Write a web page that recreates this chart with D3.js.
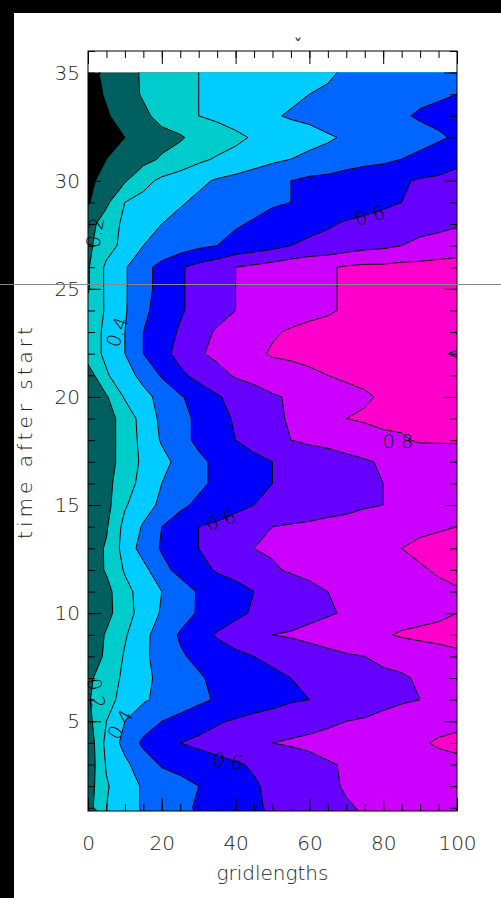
<!DOCTYPE html>
<html>
<head>
<meta charset="utf-8">
<script src="https://cdn.jsdelivr.net/npm/d3@7"></script>
<style>
body{margin:0;background:#fff}
</style>
</head>
<body>
<div id="graph"></div>
<script>
"use strict"
// sampled field: one row per time step (t=1 first), one column per gridlength
var gridlengths=[0,5,10,15,20,25,30,35,40,45,50,55,60,65,70,75,80,85,90,95,100]
var times=[1,2,3,4,5,6,7,8,9,10,11,12,13,14,15,16,17,18,19,20,21,22,23,24,25,26,27,28,29,30,31,32,33,34,35]
var field=[
  [0.16,0.30,0.36,0.41,0.44,0.48,0.51,0.53,0.56,0.59,0.61,0.63,0.65,0.67,0.69,0.71,0.72,0.73,0.74,0.75,0.76],
  [0.15,0.29,0.36,0.41,0.44,0.47,0.50,0.53,0.56,0.59,0.62,0.64,0.66,0.68,0.71,0.72,0.73,0.74,0.75,0.75,0.76],
  [0.13,0.31,0.38,0.45,0.51,0.53,0.55,0.57,0.59,0.61,0.63,0.65,0.67,0.69,0.71,0.72,0.74,0.75,0.76,0.77,0.78],
  [0.13,0.33,0.43,0.52,0.57,0.60,0.62,0.64,0.66,0.68,0.70,0.71,0.72,0.74,0.75,0.76,0.77,0.78,0.79,0.81,0.82],
  [0.17,0.30,0.40,0.45,0.50,0.53,0.56,0.59,0.61,0.63,0.64,0.66,0.67,0.68,0.70,0.71,0.73,0.74,0.76,0.77,0.78],
  [0.19,0.27,0.33,0.39,0.42,0.45,0.48,0.51,0.53,0.55,0.57,0.59,0.60,0.62,0.64,0.65,0.67,0.69,0.70,0.71,0.72],
  [0.18,0.25,0.32,0.38,0.42,0.46,0.49,0.52,0.54,0.56,0.58,0.60,0.62,0.63,0.65,0.66,0.68,0.69,0.71,0.72,0.73],
  [0.13,0.22,0.31,0.38,0.44,0.49,0.52,0.55,0.58,0.60,0.62,0.64,0.65,0.67,0.69,0.70,0.72,0.73,0.75,0.76,0.77],
  [0.13,0.21,0.29,0.37,0.45,0.51,0.56,0.61,0.64,0.67,0.70,0.71,0.73,0.75,0.76,0.78,0.79,0.81,0.82,0.83,0.85],
  [0.13,0.17,0.26,0.34,0.41,0.46,0.51,0.54,0.58,0.61,0.63,0.65,0.67,0.69,0.71,0.73,0.74,0.76,0.77,0.78,0.80],
  [0.13,0.17,0.27,0.34,0.40,0.45,0.51,0.54,0.57,0.60,0.63,0.65,0.68,0.70,0.71,0.73,0.74,0.75,0.77,0.78,0.79],
  [0.14,0.21,0.31,0.37,0.47,0.53,0.57,0.61,0.63,0.66,0.69,0.71,0.72,0.73,0.74,0.76,0.77,0.78,0.79,0.81,0.83],
  [0.15,0.21,0.34,0.44,0.51,0.56,0.60,0.64,0.67,0.70,0.71,0.72,0.74,0.75,0.76,0.77,0.79,0.80,0.82,0.83,0.85],
  [0.14,0.19,0.33,0.41,0.50,0.55,0.60,0.62,0.65,0.67,0.70,0.71,0.72,0.73,0.74,0.75,0.76,0.77,0.78,0.79,0.80],
  [0.13,0.17,0.29,0.36,0.42,0.48,0.52,0.54,0.57,0.60,0.61,0.63,0.64,0.66,0.67,0.69,0.70,0.72,0.74,0.76,0.78],
  [0.13,0.17,0.26,0.33,0.40,0.44,0.48,0.52,0.55,0.58,0.60,0.62,0.64,0.65,0.67,0.69,0.70,0.72,0.73,0.74,0.75],
  [0.13,0.16,0.24,0.32,0.37,0.43,0.48,0.52,0.54,0.57,0.60,0.62,0.63,0.65,0.67,0.69,0.71,0.72,0.73,0.74,0.75],
  [0.13,0.16,0.24,0.33,0.41,0.47,0.52,0.56,0.60,0.64,0.67,0.70,0.72,0.73,0.75,0.76,0.78,0.79,0.81,0.81,0.81],
  [0.13,0.16,0.24,0.34,0.42,0.47,0.52,0.57,0.61,0.64,0.68,0.71,0.74,0.77,0.80,0.81,0.82,0.82,0.83,0.83,0.84],
  [0.14,0.19,0.31,0.37,0.43,0.49,0.54,0.59,0.63,0.66,0.69,0.71,0.73,0.75,0.78,0.79,0.81,0.82,0.83,0.83,0.84],
  [0.15,0.29,0.36,0.43,0.51,0.58,0.63,0.67,0.71,0.73,0.75,0.76,0.78,0.80,0.81,0.82,0.83,0.83,0.84,0.84,0.85],
  [0.25,0.32,0.40,0.50,0.57,0.63,0.69,0.72,0.75,0.78,0.81,0.82,0.83,0.83,0.84,0.84,0.84,0.84,0.83,0.81,0.79],
  [0.25,0.32,0.40,0.50,0.56,0.61,0.67,0.71,0.74,0.76,0.79,0.81,0.82,0.83,0.83,0.84,0.84,0.84,0.85,0.85,0.85],
  [0.24,0.31,0.39,0.48,0.54,0.59,0.63,0.67,0.70,0.72,0.74,0.76,0.78,0.79,0.81,0.82,0.83,0.83,0.84,0.84,0.85],
  [0.19,0.32,0.39,0.47,0.53,0.59,0.63,0.67,0.70,0.72,0.74,0.76,0.78,0.79,0.81,0.82,0.82,0.83,0.83,0.84,0.84],
  [0.19,0.32,0.39,0.47,0.53,0.59,0.63,0.66,0.70,0.72,0.74,0.76,0.78,0.79,0.81,0.82,0.82,0.83,0.83,0.84,0.84],
  [0.18,0.26,0.33,0.40,0.43,0.45,0.48,0.50,0.53,0.55,0.57,0.60,0.62,0.63,0.65,0.67,0.68,0.70,0.72,0.73,0.75],
  [0.16,0.25,0.32,0.36,0.40,0.43,0.45,0.47,0.49,0.51,0.53,0.55,0.57,0.59,0.61,0.62,0.64,0.65,0.67,0.68,0.69],
  [0.09,0.18,0.30,0.33,0.36,0.39,0.42,0.43,0.45,0.47,0.49,0.50,0.52,0.54,0.55,0.57,0.58,0.60,0.62,0.64,0.66],
  [0.08,0.13,0.19,0.27,0.32,0.35,0.38,0.41,0.43,0.46,0.48,0.50,0.52,0.53,0.55,0.56,0.57,0.59,0.61,0.62,0.64],
  [0.06,0.10,0.13,0.17,0.21,0.24,0.28,0.31,0.33,0.35,0.38,0.40,0.42,0.43,0.45,0.47,0.48,0.50,0.52,0.54,0.57],
  [0.04,0.07,0.10,0.13,0.17,0.19,0.23,0.25,0.28,0.31,0.33,0.35,0.37,0.39,0.41,0.42,0.44,0.46,0.47,0.49,0.51],
  [0.04,0.09,0.14,0.18,0.23,0.26,0.30,0.32,0.34,0.37,0.39,0.41,0.42,0.44,0.45,0.47,0.48,0.49,0.51,0.52,0.54],
  [0.06,0.11,0.16,0.21,0.24,0.28,0.30,0.32,0.34,0.35,0.37,0.38,0.40,0.41,0.43,0.44,0.45,0.46,0.48,0.49,0.50],
  [0.07,0.12,0.17,0.21,0.24,0.27,0.30,0.32,0.33,0.34,0.36,0.37,0.38,0.39,0.41,0.42,0.43,0.44,0.46,0.47,0.48]
]
var levels=[0.1,0.2,0.3,0.4,0.5,0.6,0.7,0.8]
var levelColors=['#005f5f','#00cccc','#00ccff','#0066ff','#0000ff','#6600ff','#cc00ff','#ff00cc']
var xTicks=[0,20,40,60,80,100]
var yTicks=[5,10,15,20,25,30,35]
// contour labels: text, gridlength, time, angle
var labelText=['0.2','0.4','0.6','0.8','0.6','0.2','0.4','0.6']
var labelX=[1.9,7.9,76.4,84,36,2.2,8.7,37.9]
var labelT=[27.6,23.0,28.4,17.95,14.3,6.3,4.85,3.15]
var labelAngle=[-80,-70,-15,0,-20,80,-60,8]

var W=501,H=898
var svg=d3.select('#graph').append('svg').attr('width',W).attr('height',H)
svg.append('rect').attr('width',W).attr('height',H).attr('fill','#fff')

var x=d3.scaleLinear().domain([0,100]).range([88,457])
var y=d3.scaleLinear().domain([0.85,36]).range([811,51])

// contour polygons live in grid-index space, values sit at cell centres
var nx=gridlengths.length,ny=times.length
var gx=d3.scaleLinear().domain([0.5,nx-0.5]).range([x(gridlengths[0]),x(gridlengths[nx-1])])
var gy=d3.scaleLinear().domain([0.5,ny-0.5]).range([y(times[0]),y(times[ny-1])])
var values=[]
for(var j=0;j<ny;j++)
  for(var i=0;i<nx;i++)
    values.push(field[j][i])
var contours=d3.contours().size([nx,ny]).thresholds(levels)(values)
var path=d3.geoPath(d3.geoTransform({point:function(px,py){this.stream.point(gx(px),gy(py))}}))

svg.append('clipPath').attr('id','plotclip').append('rect')
  .attr('x',x(0)).attr('y',y(35)).attr('width',x(100)-x(0)).attr('height',y(0.85)-y(35))
var plot=svg.append('g').attr('clip-path','url(#plotclip)')
plot.append('rect').attr('x',x(0)).attr('y',y(35)).attr('width',x(100)-x(0)).attr('height',y(0.85)-y(35)).attr('fill','#000')
plot.selectAll('path.band').data(contours).join('path').attr('class','band')
  .attr('d',path).attr('fill',function(d,i){return levelColors[i]})
plot.selectAll('path.iso').data(contours).join('path').attr('class','iso')
  .attr('d',path).attr('fill','none').attr('stroke','#000').attr('stroke-width',1)

// contour labels
for(var k=0;k<labelText.length;k++){
  svg.append('text').attr('font-family','DejaVu Sans').attr('font-weight',300).attr('font-size',19).attr('fill','#000')
    .attr('text-anchor','middle').attr('dy','0.35em')
    .attr('transform','translate('+x(labelX[k])+','+y(labelT[k])+') rotate('+labelAngle[k]+')')
    .text(labelText[k])
}

// axes: ticks point inward, majors longer
function styleAxis(g){
  g.select('.domain').remove()
  g.selectAll('line').attr('stroke','#000')
  g.selectAll('text').attr('fill','#222').attr('font-family','DejaVu Sans').attr('font-weight',300).attr('font-size',20)
}
var minorX=d3.range(0,101,5),minorY=d3.range(1,37,1)
svg.append('g').attr('transform','translate(0,'+y(0.85)+')')
  .call(d3.axisBottom(x).tickValues(minorX).tickSize(-7).tickFormat('')).call(styleAxis)
svg.append('g').attr('transform','translate(0,'+y(0.85)+')')
  .call(d3.axisBottom(x).tickValues(xTicks).tickSize(-13).tickPadding(25).tickFormat(d3.format('d'))).call(styleAxis)
svg.append('g').attr('transform','translate(0,'+y(36)+')')
  .call(d3.axisTop(x).tickValues(minorX).tickSize(-7).tickFormat('')).call(styleAxis)
svg.append('g').attr('transform','translate(0,'+y(36)+')')
  .call(d3.axisTop(x).tickValues(xTicks).tickSize(-13).tickFormat('')).call(styleAxis)
svg.append('g').attr('transform','translate('+x(0)+',0)')
  .call(d3.axisLeft(y).tickValues(minorY).tickSize(-7).tickFormat('')).call(styleAxis)
svg.append('g').attr('transform','translate('+x(0)+',0)')
  .call(d3.axisLeft(y).tickValues(yTicks).tickSize(-13).tickPadding(8).tickFormat(d3.format('d'))).call(styleAxis)
svg.append('g').attr('transform','translate('+x(100)+',0)')
  .call(d3.axisRight(y).tickValues(minorY).tickSize(-7).tickFormat('')).call(styleAxis)
svg.append('g').attr('transform','translate('+x(100)+',0)')
  .call(d3.axisRight(y).tickValues(yTicks).tickSize(-13).tickFormat('')).call(styleAxis)

svg.append('rect').attr('x',x(0)).attr('y',y(36)).attr('width',x(100)-x(0)).attr('height',y(0.85)-y(36))
  .attr('fill','none').attr('stroke','#000').attr('stroke-width',1)

svg.append('text').attr('x',(x(0)+x(100))/2).attr('y',880).attr('text-anchor','middle')
  .attr('font-family','DejaVu Sans').attr('font-weight',300).attr('font-size',20).attr('fill','#222').text('gridlengths')
svg.append('text').attr('transform','translate(32,'+((y(36)+y(0.85))/2)+') rotate(-90)').attr('text-anchor','middle')
  .attr('font-family','DejaVu Sans').attr('font-weight',300).attr('font-size',20).attr('letter-spacing',4).attr('fill','#222').text('time after start')
svg.append('text').attr('x',298).attr('y',52).attr('text-anchor','middle')
  .attr('font-family','DejaVu Sans').attr('font-size',18).attr('fill','#333').text('ˇ')

// frame of the screen capture
svg.append('rect').attr('x',0).attr('y',0).attr('width',14).attr('height',H).attr('fill','#000')
svg.append('rect').attr('x',0).attr('y',0).attr('width',W).attr('height',13).attr('fill','#000')
svg.append('line').attr('x1',0).attr('x2',W).attr('y1',284.5).attr('y2',284.5).attr('stroke','#888').attr('stroke-width',1)
</script>
</body>
</html>
